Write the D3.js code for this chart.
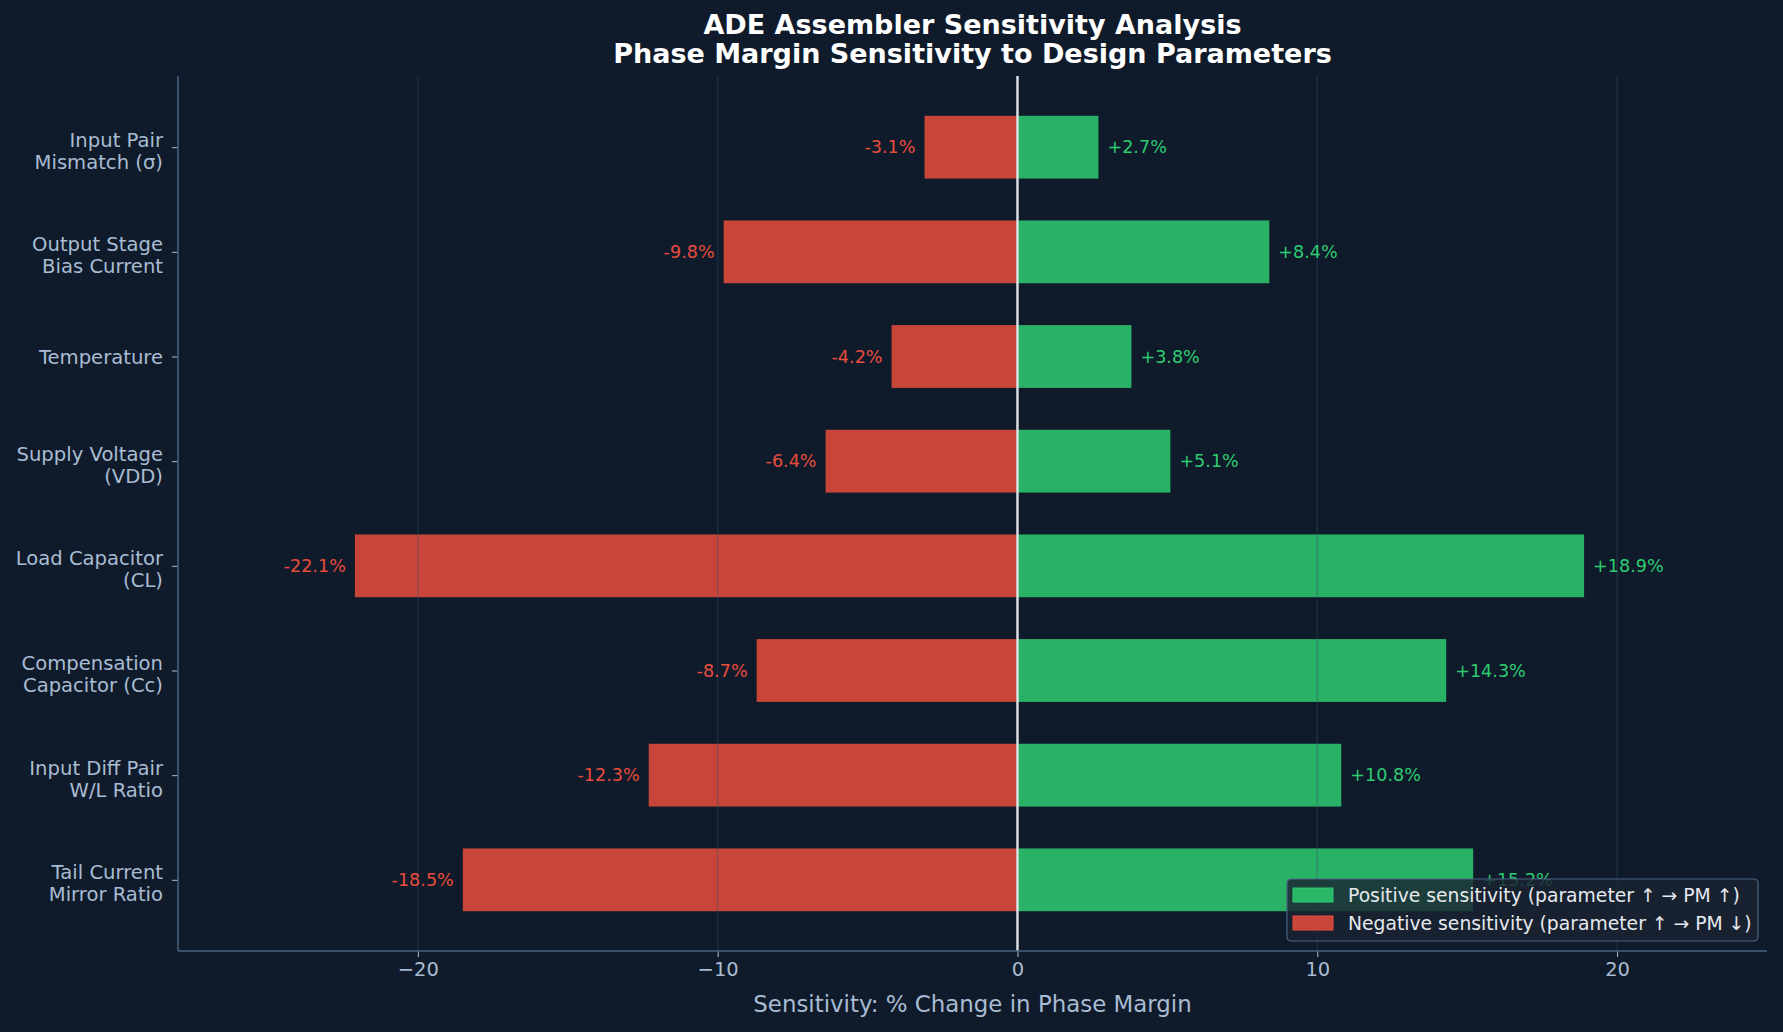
<!DOCTYPE html>
<html>
<head>
<meta charset="utf-8">
<script src="https://cdn.jsdelivr.net/npm/d3@7"></script>
<style>
  body { margin: 0; background: #0f1b2a; }
  svg text { font-family: "DejaVu Sans", sans-serif; }
</style>
</head>
<body>
<div id="vis"></div>
<script>
// parameters, bottom to top as drawn
var params = ["Tail Current\nMirror Ratio", "Input Diff Pair\nW/L Ratio",
    "Compensation\nCapacitor (Cc)", "Load Capacitor\n(CL)", "Supply Voltage\n(VDD)",
    "Temperature", "Output Stage\nBias Current", "Input Pair\nMismatch (σ)"];
var neg_vals = [-18.5, -12.3, -8.7, -22.1, -6.4, -4.2, -9.8, -3.1];
var pos_vals = [15.2, 10.8, 14.3, 18.9, 5.1, 3.8, 8.4, 2.7];
var x_ticks = [-20, -10, 0, 10, 20];
var legend_labels = ["Positive sensitivity (parameter \u2191 \u2192 PM \u2191)",
    "Negative sensitivity (parameter \u2191 \u2192 PM \u2193)"];

var W = 1783, H = 1032;
var m = {left: 178, right: 16, top: 76, bottom: 81};
var bg = "#0f1b2a", red = "#e74c3c", green = "#2ecc71";
var txt = "#a9bcd3", spine = "#4a6582";

var svg = d3.select("div#vis").append("svg")
    .attr("width", W).attr("height", H);
svg.append("rect").attr("width", W).attr("height", H).attr("fill", bg);

var x = d3.scaleLinear().domain([-28, 25]).range([m.left, W - m.right]);
var y = d3.scaleLinear().domain([-0.68, 7.68]).range([H - m.bottom, m.top]);
var bh = y(0) - y(0.6);

var plot = svg.append("g");

// bars
function bars(vals, color) {
    plot.selectAll(null).data(vals).enter().append("rect")
        .attr("x", function(d) { return x(Math.min(0, d)); })
        .attr("y", function(d, i) { return y(i) - bh / 2; })
        .attr("width", function(d) { return Math.abs(x(d) - x(0)); })
        .attr("height", bh)
        .attr("fill", color)
        .attr("fill-opacity", 0.85);
}
bars(neg_vals, red);
bars(pos_vals, green);

// grid (drawn over bars, faint)
plot.selectAll("line.grid").data(x_ticks).enter().append("line")
    .attr("class", "grid")
    .attr("x1", x).attr("x2", x)
    .attr("y1", m.top).attr("y2", H - m.bottom)
    .attr("stroke", "#34506e").attr("stroke-opacity", 0.35)
    .attr("stroke-width", 1.5);

// zero line
plot.append("line")
    .attr("x1", x(0)).attr("x2", x(0))
    .attr("y1", m.top).attr("y2", H - m.bottom)
    .attr("stroke", "#dfe3e8").attr("stroke-width", 2.4);

// value labels
plot.selectAll(null).data(neg_vals).enter().append("text")
    .attr("x", function(d) { return x(d) - 9; })
    .attr("y", function(d, i) { return y(i); })
    .attr("dy", "0.35em")
    .attr("text-anchor", "end")
    .attr("fill", red)
    .style("font-size", "17.6px")
    .text(function(d) { return d.toFixed(1) + "%"; });

plot.selectAll(null).data(pos_vals).enter().append("text")
    .attr("x", function(d) { return x(d) + 9; })
    .attr("y", function(d, i) { return y(i); })
    .attr("dy", "0.35em")
    .attr("fill", green)
    .style("font-size", "17.6px")
    .text(function(d) { return "+" + d.toFixed(1) + "%"; });

// x axis
var xa = svg.append("g")
    .attr("transform", "translate(0," + (H - m.bottom) + ")")
    .call(d3.axisBottom(x).tickValues(x_ticks).tickSize(6).tickPadding(5)
        .tickFormat(function(d) { return d < 0 ? "\u2212" + (-d) : d; }));
xa.select(".domain").remove();
xa.selectAll(".tick line").attr("stroke", txt);
xa.selectAll(".tick text").attr("fill", txt)
    .style("font-size", "19.5px").style("font-family", "DejaVu Sans");

// y axis
var ya = svg.append("g")
    .attr("transform", "translate(" + m.left + ",0)")
    .call(d3.axisLeft(y).tickValues(d3.range(params.length)).tickSize(6)
        .tickFormat(""));
ya.select(".domain").remove();
ya.selectAll(".tick line").attr("stroke", txt);
ya.selectAll(".tick").each(function(d) {
    var lines = params[d].split("\n");
    var t = d3.select(this).append("text")
        .attr("x", -15)
        .attr("text-anchor", "end")
        .attr("fill", txt)
        .style("font-size", "19.6px");
    var y0 = lines.length === 1 ? 7 : -1;
    lines.forEach(function(l, k) {
        t.append("tspan").attr("x", -15).attr("y", y0 + k * 22).text(l);
    });
});

// spines
svg.append("line")
    .attr("x1", m.left).attr("x2", m.left)
    .attr("y1", m.top).attr("y2", H - m.bottom)
    .attr("stroke", spine).attr("stroke-width", 1.5);
svg.append("line")
    .attr("x1", m.left).attr("x2", W - m.right)
    .attr("y1", H - m.bottom).attr("y2", H - m.bottom)
    .attr("stroke", spine).attr("stroke-width", 1.5);

// axis label
svg.append("text")
    .attr("x", (m.left + W - m.right) / 2)
    .attr("y", 1012)
    .attr("text-anchor", "middle")
    .attr("fill", txt)
    .style("font-size", "22.9px")
    .text("Sensitivity: % Change in Phase Margin");

// title
var title = svg.append("text")
    .attr("text-anchor", "middle")
    .attr("fill", "#ffffff")
    .style("font-size", "27px")
    .style("font-weight", "bold");
title.append("tspan").attr("x", (m.left + W - m.right) / 2).attr("y", 34)
    .text("ADE Assembler Sensitivity Analysis");
title.append("tspan").attr("x", (m.left + W - m.right) / 2).attr("y", 63)
    .text("Phase Margin Sensitivity to Design Parameters");

// legend
var lg = svg.append("g").attr("transform", "translate(1287,879)");
lg.append("rect")
    .attr("width", 471).attr("height", 62).attr("rx", 4)
    .attr("fill", "#1a2332").attr("fill-opacity", 0.82)
    .attr("stroke", "#4a6582").attr("stroke-width", 1.2);
var items = lg.selectAll("g.legend-elem")
    .data([green, red])
  .enter().append("g")
    .attr("class", "legend-elem")
    .attr("transform", function(d, i) { return "translate(6," + (9 + i * 28) + ")"; });
items.append("rect")
    .attr("width", 40).attr("height", 14)
    .attr("fill", function(d) { return d; })
    .attr("fill-opacity", 0.85)
    .attr("stroke", function(d) { return d; });
items.append("text")
    .attr("x", 55).attr("y", 7).attr("dy", "0.35em")
    .attr("fill", "#e6e9ee")
    .style("font-size", "18.75px")
    .text(function(d, i) { return legend_labels[i]; });
</script>
</body>
</html>
